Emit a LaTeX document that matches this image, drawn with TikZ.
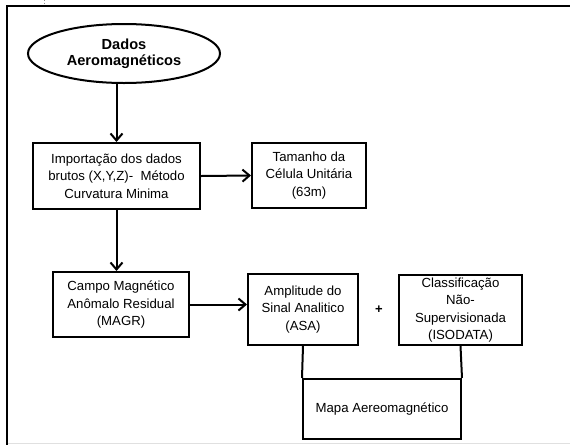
\documentclass[tikz,border=0pt]{standalone}
\usepackage{fontspec}
\setmainfont{Liberation Sans}
\usetikzlibrary{shapes.geometric,arrows.meta}
\tikzset{
  box/.style={draw, line width=2pt, rectangle, align=center, inner sep=0pt,
    font=\fontsize{13.2}{17.6}\selectfont},
  oval/.style={draw, line width=2pt, ellipse, align=center, inner sep=0pt,
    font=\fontsize{14.6}{15.8}\selectfont\bfseries},
  arr/.style={line width=2pt, -{Straight Barb[length=7pt,width=12pt]}},
  link/.style={line width=2pt},
  frame/.style={line width=2pt}
}
\begin{document}
\begin{tikzpicture}[x=1pt,y=-1pt]
\useasboundingbox (0,0) rectangle (570,445);
% frame
\draw[frame] (570,5.5) -- (7,5.5) -- (7,445);
\draw[black!12, line width=1pt] (8,443) -- (570,443);
\draw[black!45, dotted, line width=0.6pt] (44,0) -- (44,5);
% nodes
\node[oval, minimum width=192pt, minimum height=59pt] (e) at (124,53.5) {Dados\\Aeromagnéticos};
\node[box, minimum width=167pt, minimum height=66pt] (b1) at (116.5,176) {Importação dos dados\\brutos (X,Y,Z)-\ \ Método\\Curvatura Minima};
\node[box, minimum width=114pt, minimum height=65pt] (tam) at (309,175.5) {Tamanho da\\Célula Unitária\\(63m)};
\node[box, minimum width=136pt, minimum height=65pt] (campo) at (121,304.5) {Campo Magnético\\Anômalo Residual\\(MAGR)};
\node[box, minimum width=110pt, minimum height=71pt] (amp) at (303,309.5) {Amplitude do\\Sinal Analitico\\(ASA)};
\node[box, minimum width=123pt, minimum height=70pt] (cls) at (460.5,310) {Classificação\\Não-\\Supervisionada\\(ISODATA)};
\node[box, minimum width=158pt, minimum height=60pt] (map) at (382,409) {Mapa Aereomagnético};
\node[font=\fontsize{13}{15}\selectfont\bfseries, inner sep=0pt] (plus) at (379,310) {+};
% connectors
\draw[arr] (b1.north |- e.south) -- (b1.north);
\draw[arr] (b1.east) -- (tam.west);
\draw[arr] (b1.south) -- (b1.south |- campo.north);
\draw[arr] (campo.east) -- (campo.east -| amp.west);
\draw[link] (amp.south) -- (map.north west);
\draw[link] (cls.south) -- (map.north east);
\end{tikzpicture}
\end{document}
